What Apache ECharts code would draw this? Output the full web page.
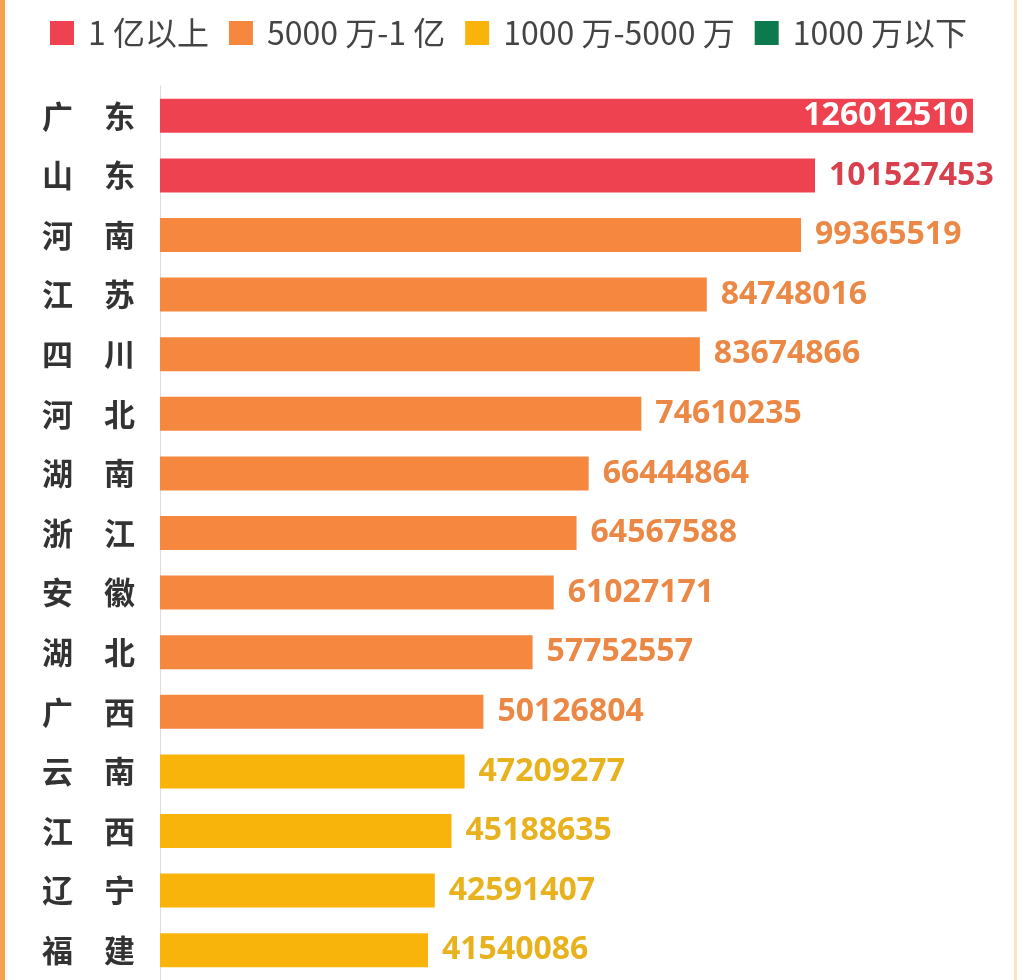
<!DOCTYPE html>
<html><head><meta charset="utf-8">
<script src="https://cdn.jsdelivr.net/npm/echarts@6/dist/echarts.min.js"></script>
<style>html,body{margin:0;padding:0;background:#fff}#c{width:1017px;height:980px}</style>
</head><body><div id="c"></div>
<script>
const provinces = ['广东','山东','河南','江苏','四川','河北','湖南','浙江','安徽','湖北','广西','云南','江西','辽宁','福建'];
const population = [126012510,101527453,99365519,84748016,83674866,74610235,66444864,64567588,61027171,57752557,50126804,47209277,45188635,42591407,41540086];
const groupNames = ['1 亿以上','5000 万-1 亿','1000 万-5000 万','1000 万以下'];
const groupMin = [100000000, 50000000, 10000000, 0];
const groupMax = [Infinity, 100000000, 50000000, 10000000];
const barColors = ['#EE4250','#F5873F','#F9B40C','#0C7A4E'];
const labelColors = ['#D8404E','#EC8845','#E8B21E','#0C7A4E'];

const series = groupNames.map((name, gi) => ({
  name: name,
  type: 'bar',
  stack: 'total',
  barWidth: 34,
  itemStyle: { color: barColors[gi] },
  label: {
    show: true, position: 'right', distance: 14,
    color: labelColors[gi], fontSize: 32, fontWeight: 'bold', fontFamily: 'Open Sans'
  },
  data: population.map((v, i) => {
    if (v >= groupMin[gi] && v < groupMax[gi]) {
      if (i === 0) return { value: v, label: { position: 'insideRight', distance: 5, color: '#fff' } };
      return v;
    }
    return '-';
  })
}));

const chart = echarts.init(document.getElementById('c'));
chart.setOption({
  backgroundColor: '#fff',
  animation: false,
  legend: {
    left: 45, top: 12, itemWidth: 24, itemHeight: 24, itemGap: 20, icon: 'rect',
    textStyle: { fontSize: 32, color: '#444', fontFamily: 'Noto Sans CJK SC', padding: [0, 0, 0, 9] },
    data: groupNames
  },
  graphic: [{ type: 'rect', left: 0, top: 0, shape: { width: 5, height: 980 }, style: { fill: '#F4A24B' } },
            { type: 'rect', right: 0, top: 0, shape: { width: 3, height: 980 }, style: { fill: '#FBE3CA' } }],
  grid: { left: 160, top: 86, width: 838.7, height: 900 },
  xAxis: { type: 'value', min: 0, max: 130000000, show: false },
  yAxis: {
    type: 'category', inverse: true, data: provinces,
    axisLine: { lineStyle: { color: '#ddd' } }, axisTick: { show: false },
    axisLabel: {
      margin: 25, fontSize: 31, fontWeight: 'bold', color: '#333', fontFamily: 'Noto Sans CJK SC',
      formatter: s => s.split('').join('\u3000')
    }
  },
  series: series
});
</script></body></html>
